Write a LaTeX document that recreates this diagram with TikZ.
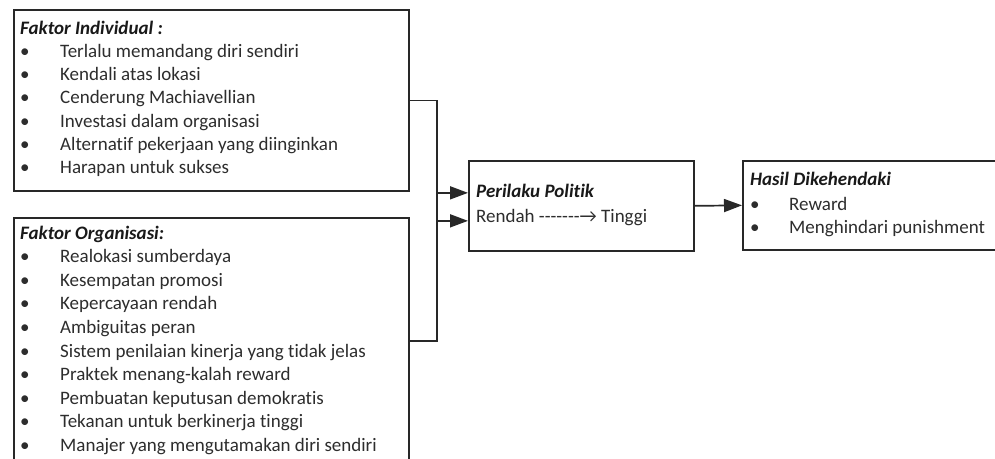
\documentclass[tikz,border=0pt]{standalone}
\usepackage{fontspec}
\setmainfont{Carlito}
\usetikzlibrary{arrows.meta}
\definecolor{ln}{RGB}{40,40,40}
\definecolor{tx}{RGB}{45,45,45}
\newcommand{\nl}{\kern0pt}
\tikzset{
  box/.style={draw=ln, line width=1.7pt, fill=white, inner sep=0pt, anchor=north west},
  ttl/.style={anchor=base west, inner sep=0pt, font=\fontsize{19}{21}\selectfont\bfseries\itshape, text=black!90},
  itm/.style={anchor=base west, inner sep=0pt, font=\fontsize{19}{21}\selectfont, text=tx},
  conn/.style={draw=ln, line width=1.7pt, -{Triangle[length=18pt,width=13pt]}},
}
\begin{document}
\begin{tikzpicture}[x=1pt,y=-1pt]
\useasboundingbox (0,0) rectangle (995,458);
\clip (0,0) rectangle (995,458);
% boxes
\node[box, minimum width=395pt, minimum height=181pt] (b1) at (13,9) {};
\node[box, minimum width=395pt, minimum height=246pt] (b2) at (13,217) {};
\node[box, minimum width=225pt, minimum height=90pt] (b3) at (468,160) {};
\node[box, minimum width=270pt, minimum height=89pt] (b4) at (742,160) {};
% box 1 text
\node[ttl] (t1) at (20,34) {Faktor Individual :};
\foreach \t [count=\i] in {Terlalu memandang diri sendiri, Kendali atas lokasi, Cenderung Machiavellian, Investasi dalam organisasi, Alternat\nl if pekerjaan yang diinginkan, Harapan untuk sukses}{
  \node[itm] (b1d\i) at (20,{34+23.3*\i}) {•};
  \node[itm] (b1t\i) at (60,{34+23.3*\i}) {\t};
}
% box 2 text
\node[ttl] (t2) at (20,239) {Faktor Organisasi:};
\foreach \t [count=\i] in {Realokasi sumberdaya, Kesempatan promosi, Kepercayaan rendah, Ambiguitas peran, Sistem penilaian kinerja yang t\nl idak jelas, Praktek menang-kalah reward, Pembuatan keputusan demokrat\nl is, Tekanan untuk berkinerja t\nl inggi, Manajer yang mengutamakan diri sendiri}{
  \node[itm] (b2d\i) at (20,{239+23.6*\i}) {•};
  \node[itm] (b2t\i) at (60,{239+23.6*\i}) {\t};
}
% box 3 text
\node[ttl] (t3) at (476,197) {Perilaku Polit\nl ik};
\node[itm] (t3a) at (476,222) {Rendah -{}-{}-{}-{}-{}-{}-→ Tinggi};
% box 4 text
\node[ttl] (t4) at (750,185) {Hasil Dikehendaki};
\node[itm] (b4d1) at (750,210) {•};
\node[itm] (b4t1) at (789,210) {Reward};
\node[itm] (b4d2) at (750,233) {•};
\node[itm] (b4t2) at (789,233) {Menghindari punishment};
% connectors
\coordinate (j1) at (437,0);
\draw[conn] (b1.east) -| (j1 |- 0,120) |- ([yshift=-15pt]b3.west);
\draw[conn] (b2.east) -| (j1 |- 0,300) |- ([yshift=13pt]b3.west);
\draw[conn] (b3.east) -- (b4.west);
\end{tikzpicture}
\end{document}
